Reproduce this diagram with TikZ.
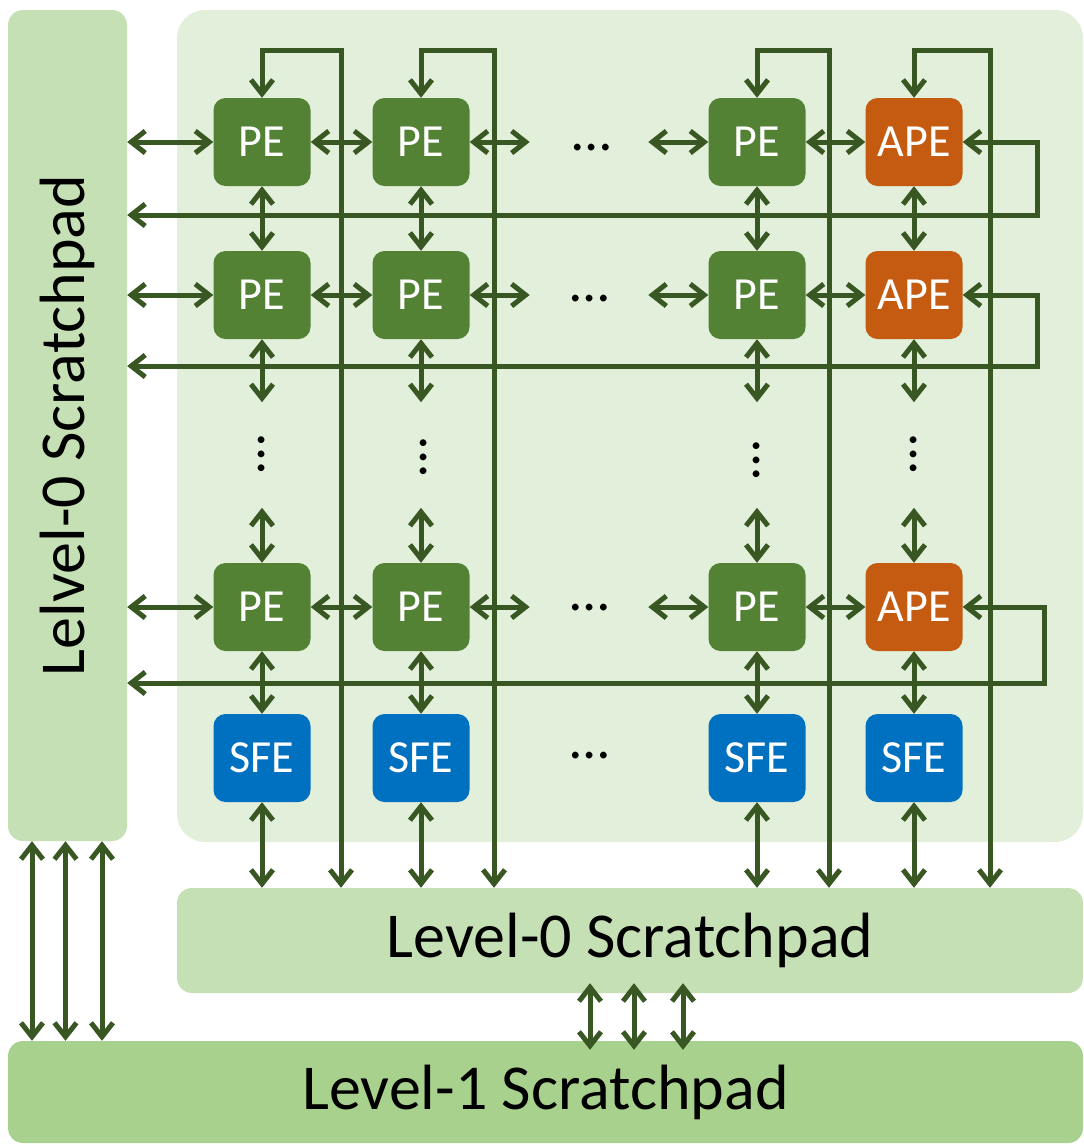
\documentclass[tikz,border=0pt]{standalone}
\usepackage{fontspec}
\setmainfont{Carlito}
\usepackage{xcolor}
\definecolor{padgreen}{HTML}{C5E0B4}
\definecolor{panelgreen}{HTML}{E2EFDA}
\definecolor{lvlgreen}{HTML}{A9D18E}
\definecolor{pegreen}{HTML}{548235}
\definecolor{apeorange}{HTML}{C55A11}
\definecolor{sfeblue}{HTML}{0070C0}
\definecolor{wiregreen}{HTML}{385723}
\usepackage{tikz}
\usetikzlibrary{arrows.meta}

\begin{document}
\begin{tikzpicture}[x=1pt, y=-1pt,
  unit/.style={rounded corners=12pt, minimum width=97pt, minimum height=88pt, inner sep=0pt, text=white, font=\fontsize{46}{50}\selectfont},
  pe/.style={unit, fill=pegreen},
  ape/.style={unit, fill=apeorange},
  sfe/.style={unit, fill=sfeblue},
  pad/.style={rounded corners=15pt, inner sep=0pt, font=\fontsize{64}{68}\selectfont},
  dots/.style={inner sep=0pt, font=\fontsize{56}{60}\selectfont},
  link/.style={wiregreen, line width=5pt, {Straight Barb[length=14pt,width=22pt]}-{Straight Barb[length=14pt,width=22pt]}}]
  \useasboundingbox (0,0) rectangle (1084,1144);

  % Array panel
  \fill[panelgreen, rounded corners=28pt] (177,10) rectangle (1083,842);

  % Scratchpads
  \node[pad, fill=padgreen, minimum width=119pt, minimum height=831pt] (side) at (67.5,425.5) {};
  \node[pad, rotate=90] (sidetext) at (side.center) {Lelvel-0 Scratchpad};
  \node[pad, fill=padgreen, minimum width=906pt, minimum height=105pt] (lvl0) at (630,940.5) {Level-0 Scratchpad};
  \node[pad, fill=lvlgreen, minimum width=1075pt, minimum height=102pt] (lvl1) at (545.5,1092) {Level-1 Scratchpad};

  % --- PE array ---
  \node[pe] (pe11) at (262,142) {PE};
  \node[pe] (pe12) at (421,142) {PE};
  \node[pe] (pe13) at (757,142) {PE};
  \node[ape] (ape1) at (914,142) {APE};
  \node[pe] (pe21) at (262,295) {PE};
  \node[pe] (pe22) at (421,295) {PE};
  \node[pe] (pe23) at (757,295) {PE};
  \node[ape] (ape2) at (914,295) {APE};
  \node[pe] (pe31) at (262,607) {PE};
  \node[pe] (pe32) at (421,607) {PE};
  \node[pe] (pe33) at (757,607) {PE};
  \node[ape] (ape3) at (914,607) {APE};
  \node[sfe] (sfe1) at (262,758) {SFE};
  \node[sfe] (sfe2) at (421,758) {SFE};
  \node[sfe] (sfe3) at (757,758) {SFE};
  \node[sfe] (sfe4) at (914,758) {SFE};

  % Elided rows and columns
  \node[dots] (hd1) at (592,148) {\ldots};
  \node[dots] (hd2) at (590,299) {\ldots};
  \node[dots] (hd3) at (590,608) {\ldots};
  \node[dots] (hd4) at (590,756) {\ldots};
  \node[dots, rotate=90] (vd1) at (262,454) {\ldots};
  \node[dots, rotate=90] (vd2) at (424,457) {\ldots};
  \node[dots, rotate=90] (vd3) at (757,460) {\ldots};
  \node[dots, rotate=90] (vd4) at (914,454) {\ldots};

  % Row links
  \draw[link] (side.east |- pe11.west) -- (pe11.west);
  \draw[link] (pe11.east) -- (pe12.west);
  \draw[link] (pe12.east) -- ++(60,0);
  \draw[link] ([xshift=-60pt]pe13.west) -- (pe13.west);
  \draw[link] (pe13.east) -- (ape1.west);
  \draw[link] (ape1.east) -- ++(75,0) |- (side.east |- 0,215);

  \draw[link] (side.east |- pe21.west) -- (pe21.west);
  \draw[link] (pe21.east) -- (pe22.west);
  \draw[link] (pe22.east) -- ++(60,0);
  \draw[link] ([xshift=-60pt]pe23.west) -- (pe23.west);
  \draw[link] (pe23.east) -- (ape2.west);
  \draw[link] (ape2.east) -- ++(75,0) |- (side.east |- 0,366);

  \draw[link] (side.east |- pe31.west) -- (pe31.west);
  \draw[link] (pe31.east) -- (pe32.west);
  \draw[link] (pe32.east) -- ++(60,0);
  \draw[link] ([xshift=-60pt]pe33.west) -- (pe33.west);
  \draw[link] (pe33.east) -- (ape3.west);
  \draw[link] (ape3.east) -- ++(82,0) |- (side.east |- 0,683);

  % Column links
  \draw[link] (pe11.south) -- (pe21.north);
  \draw[link] (pe21.south) -- ++(0,63);
  \draw[link] ([yshift=55pt]pe31.north) -- (pe31.north);
  \draw[link] (pe31.south) -- (sfe1.north);
  \draw[link] (sfe1.south) -- (sfe1.south |- lvl0.north);
  \draw[link] (pe11.north) |- (341,50) -- (lvl0.north -| 341,0);

  \draw[link] (pe12.south) -- (pe22.north);
  \draw[link] (pe22.south) -- ++(0,63);
  \draw[link] ([yshift=55pt]pe32.north) -- (pe32.north);
  \draw[link] (pe32.south) -- (sfe2.north);
  \draw[link] (sfe2.south) -- (sfe2.south |- lvl0.north);
  \draw[link] (pe12.north) |- (494,50) -- (lvl0.north -| 494,0);

  \draw[link] (pe13.south) -- (pe23.north);
  \draw[link] (pe23.south) -- ++(0,63);
  \draw[link] ([yshift=55pt]pe33.north) -- (pe33.north);
  \draw[link] (pe33.south) -- (sfe3.north);
  \draw[link] (sfe3.south) -- (sfe3.south |- lvl0.north);
  \draw[link] (pe13.north) |- (829,50) -- (lvl0.north -| 829,0);

  \draw[link] (ape1.south) -- (ape2.north);
  \draw[link] (ape2.south) -- ++(0,63);
  \draw[link] ([yshift=55pt]ape3.north) -- (ape3.north);
  \draw[link] (ape3.south) -- (sfe4.north);
  \draw[link] (sfe4.south) -- (sfe4.south |- lvl0.north);
  \draw[link] (ape1.north) |- (990,50) -- (lvl0.north -| 990,0);

  % Scratchpad to Level-1 links
  \draw[link] (side.south -| 32,0) -- (lvl1.north -| 32,0);
  \draw[link] (side.south -| 65.5,0) -- (lvl1.north -| 65.5,0);
  \draw[link] (side.south -| 102,0) -- (lvl1.north -| 102,0);
  \draw[link, shorten <=-10pt, shorten >=-9pt] (lvl0.south -| 590,0) -- (lvl1.north -| 590,0);
  \draw[link, shorten <=-10pt, shorten >=-9pt] (lvl0.south -| 634,0) -- (lvl1.north -| 634,0);
  \draw[link, shorten <=-10pt, shorten >=-9pt] (lvl0.south -| 683,0) -- (lvl1.north -| 683,0);
\end{tikzpicture}
\end{document}
